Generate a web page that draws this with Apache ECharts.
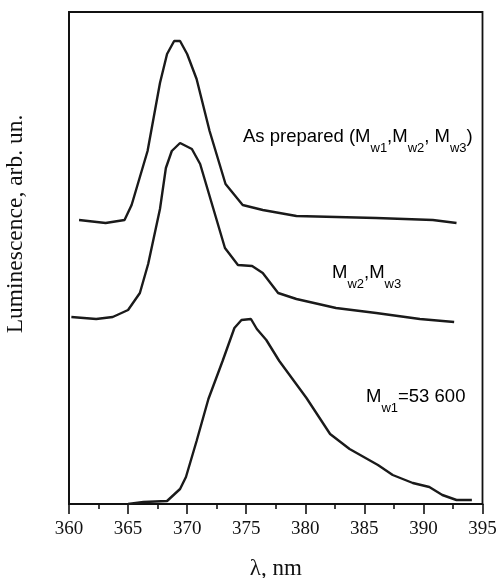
<!DOCTYPE html>
<html>
<head>
<meta charset="utf-8">
<script src="https://cdn.jsdelivr.net/npm/echarts@6/dist/echarts.min.js"></script>
<style>html,body{margin:0;padding:0;background:#fff;}#c{width:500px;height:578px;}</style>
</head>
<body>
<div id="c"></div>
<script>
// Wavelength (nm) and luminescence (arb. un.)
var lamA = [360.85, 363.1, 364.7, 365.3, 366.65, 367.7, 368.3, 368.9, 369.4, 370.0, 370.8, 371.9, 373.25, 374.7, 376.4, 379.25, 386.0, 390.8, 392.8];
var intA = [284, 281, 284, 299, 353, 421, 450, 463, 463, 450, 425, 373, 320, 299, 294, 288, 286, 284, 281];

var lamB = [360.2, 362.3, 363.7, 365.0, 366.0, 366.7, 367.7, 368.2, 368.7, 369.4, 370.4, 371.1, 372.2, 373.2, 374.3, 375.5, 376.4, 377.7, 379.25, 382.6, 386.0, 389.7, 392.6];
var intB = [187, 185, 187, 194, 211, 240, 295, 336, 353, 361, 355, 340, 296, 256, 239, 238, 231, 211, 205, 196, 191, 185, 182];

var lamC = [365.0, 366.3, 368.3, 369.4, 369.9, 370.8, 371.8, 373.0, 374.0, 374.6, 375.4, 375.9, 376.7, 377.8, 380.1, 382.1, 383.75, 386.15, 387.4, 389.1, 390.5, 391.6, 392.8, 394.1];
var intC = [0, 2, 3, 15, 27, 63, 105, 143, 176, 184, 185, 175, 164, 143, 106, 70, 55, 39, 29, 21, 17, 9, 4, 4];

var xTicks = [360, 365, 370, 375, 380, 385, 390, 395];
var xName = 'λ, nm';
var yName = 'Luminescence, arb. un.';

function pairs(xs, ys) { return xs.map(function (x, i) { return [x, ys[i]]; }); }

var sans = 'Liberation Sans, Arial, sans-serif';
var serif = 'Liberation Serif, Times New Roman, serif';
var richSub = {
  n: { fontSize: 18.5, fontFamily: sans, lineHeight: 36, verticalAlign: 'middle', color: '#111' },
  s: { fontSize: 13, fontFamily: sans, lineHeight: 13, verticalAlign: 'bottom', color: '#111' }
};

var chart = echarts.init(document.getElementById('c'), null, { renderer: 'canvas' });
var lineStyle = { color: '#1a1a1a', width: 2.4 };
chart.setOption({
  animation: false,
  backgroundColor: '#fff',
  grid: { left: 69, right: 17.5, top: 12, bottom: 74, show: true, borderColor: '#111', borderWidth: 1.8, backgroundColor: 'transparent', outerBoundsMode: 'none', containLabel: false },
  xAxis: {
    type: 'value', min: xTicks[0], max: xTicks[xTicks.length - 1], interval: 5,
    name: xName, nameLocation: 'middle', nameGap: 53,
    nameTextStyle: { fontFamily: serif, fontSize: 23, color: '#111' },
    axisLine: { show: true, lineStyle: { color: '#111', width: 1.8 } },
    axisTick: { show: true, inside: false, length: 10, lineStyle: { color: '#111', width: 1.6 } },
    minorTick: { show: true, splitNumber: 2, length: 5, lineStyle: { color: '#111', width: 1.6 } },
    axisLabel: { fontFamily: serif, fontSize: 19, color: '#111', margin: 16 },
    splitLine: { show: false }
  },
  yAxis: {
    type: 'value', min: 0, max: 492,
    axisLine: { show: true, lineStyle: { color: '#111', width: 1.8 } },
    axisTick: { show: false }, axisLabel: { show: false }, splitLine: { show: false }
  },
  graphic: [
    { type: 'text', x: 16, y: 224, rotation: Math.PI / 2,
      style: { text: yName, font: '23.5px ' + serif, fill: '#111', align: 'center', verticalAlign: 'middle' } },
    { type: 'text', x: 243, y: 137,
      style: { text: '{n|As prepared (M}{s|w1}{n|,M}{s|w2}{n|, M}{s|w3}{n|)}', rich: richSub, verticalAlign: 'middle', align: 'left' } },
    { type: 'text', x: 332, y: 273,
      style: { text: '{n|M}{s|w2}{n|,M}{s|w3}', rich: richSub, verticalAlign: 'middle', align: 'left' } },
    { type: 'text', x: 366, y: 397,
      style: { text: '{n|M}{s|w1}{n|=53 600}', rich: richSub, verticalAlign: 'middle', align: 'left' } }
  ],
  series: [
    { type: 'line', data: pairs(lamA, intA), showSymbol: false, lineStyle: lineStyle, smooth: false },
    { type: 'line', data: pairs(lamB, intB), showSymbol: false, lineStyle: lineStyle, smooth: false },
    { type: 'line', data: pairs(lamC, intC), showSymbol: false, lineStyle: lineStyle, smooth: false }
  ]
});
</script>
</body>
</html>
